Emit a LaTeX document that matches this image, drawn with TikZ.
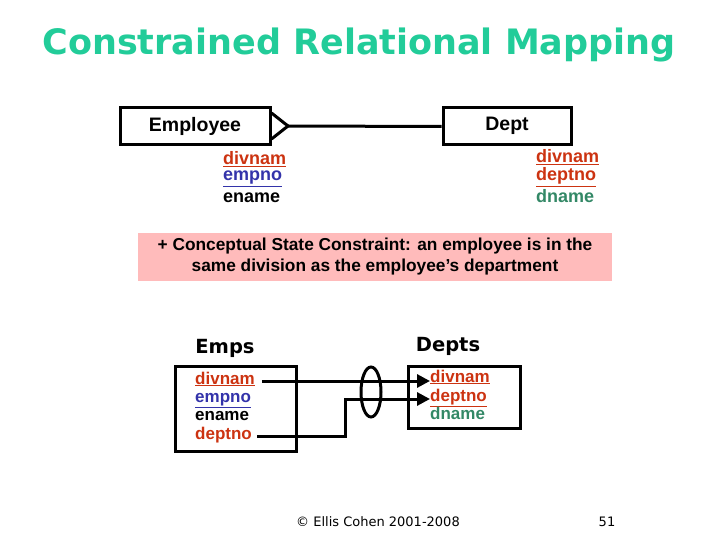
\documentclass[tikz,border=0pt]{standalone}
\usepackage{fontspec}
\setmainfont{Liberation Sans}
\newfontfamily\dv{DejaVu Sans}
\usetikzlibrary{arrows.meta}
\definecolor{cred}{HTML}{CC3311}
\definecolor{cblue}{HTML}{3333AA}
\definecolor{cgreen}{HTML}{338866}
\definecolor{ctitle}{HTML}{22CC99}
\definecolor{cpink}{HTML}{FFBBBB}
\tikzset{
 ent/.style={draw,line width=3pt,inner sep=0pt},
 lbl/.style={font=\fontsize{19.5}{19}\selectfont\bfseries,inner sep=0pt},
 att/.style={font=\fontsize{18}{18}\selectfont\bfseries,inner sep=0pt,anchor=west},
 satt/.style={font=\fontsize{17}{17}\selectfont\bfseries,inner sep=0pt,anchor=west,text height=11pt,text depth=3pt},
 lnk/.style={line width=3pt},
 arr/.style={line width=3pt,-{Triangle[length=13pt,width=13pt]}}
}
\newcommand{\ul}[1]{\underline{#1}}
\begin{document}
\begin{tikzpicture}[x=1pt,y=-1pt]
\useasboundingbox (0,0) rectangle (720,540);
\node[font=\dv\fontsize{35}{35}\selectfont\bfseries,text=ctitle,inner sep=0pt] (title) at (359,45) {Constrained Relational Mapping};
% top ER
\node[ent,minimum width=150pt,minimum height=37pt] (emp) at (195,126.5) {};
\node[lbl] (empl) at (195,126) {Employee};
\node[ent,minimum width=128pt,minimum height=37pt] (dept) at (507,126.5) {};
\node[lbl] (deptl) at (507,126) {Dept};
\coordinate (cf) at (288,126);
\draw[lnk] (cf) -- (dept.west);
\draw[lnk] (emp.east |- 0,113) -- (cf) -- (emp.east |- 0,139);
\node[att,text=cred] (a1) at (223,159) {\ul{divnam}};
\node[att,text=cblue] (a2) at (223,179) {\ul{empno}};
\node[att] (a3) at (223,198) {ename};
\node[att,text=cred] (b1) at (536,157) {\ul{divnam}};
\node[att,text=cred] (b2) at (536,177) {\ul{deptno}};
\node[att,text=cgreen] (b3) at (536,196) {dname};
% constraint
\node[fill=cpink,minimum width=474pt,minimum height=48pt,inner sep=0pt] (pink) at (375,257) {};
\node[font=\fontsize{17.3}{21}\selectfont\bfseries,align=center,inner sep=0pt] (ptext) at (375,257) {+ Conceptual State Constraint: an employee is in the\\same division as the employee's department};
% relational
\node[font=\dv\fontsize{19.5}{19}\selectfont\bfseries,inner sep=0pt] (emps) at (225,348) {Emps};
\node[font=\dv\fontsize{19.5}{19}\selectfont\bfseries,inner sep=0pt] (depts) at (448,346) {Depts};
\node[ent,minimum width=121pt,minimum height=85pt] (eb) at (235.5,408.5) {};
\node[ent,minimum width=112pt,minimum height=62pt] (db) at (464,397) {};
\node[satt,text=cred] (e1) at (195,380) {\ul{divnam}};
\node[satt,text=cblue] (e2) at (195,398) {\ul{empno}};
\node[satt] (e3) at (195,416) {ename};
\node[satt,text=cred] (e4) at (195,435) {deptno};
\node[satt,text=cred] (d1) at (430,378) {\ul{divnam}};
\node[satt,text=cred] (d2) at (430,397) {\ul{deptno}};
\node[satt,text=cgreen] (d3) at (430,415) {dname};
\draw[arr] ([xshift=7pt]e1.east |- 0,381) -- (d1.west |- 0,381);
\coordinate (k1) at (345,436);
\coordinate (k2) at (345,399);
\draw[arr] ([xshift=5pt]e4.east |- 0,436) -- (k1) -- (k2) -- (d2.west |- 0,399);
\draw[line width=3pt] (371,392) ellipse [x radius=10pt,y radius=25pt];
\node[font=\dv\fontsize{13}{13}\selectfont,inner sep=0pt] (copy) at (378,522) {© Ellis Cohen 2001-2008};
\node[font=\dv\fontsize{13}{13}\selectfont,inner sep=0pt] (pg) at (607,522) {51};
\end{tikzpicture}
\end{document}
